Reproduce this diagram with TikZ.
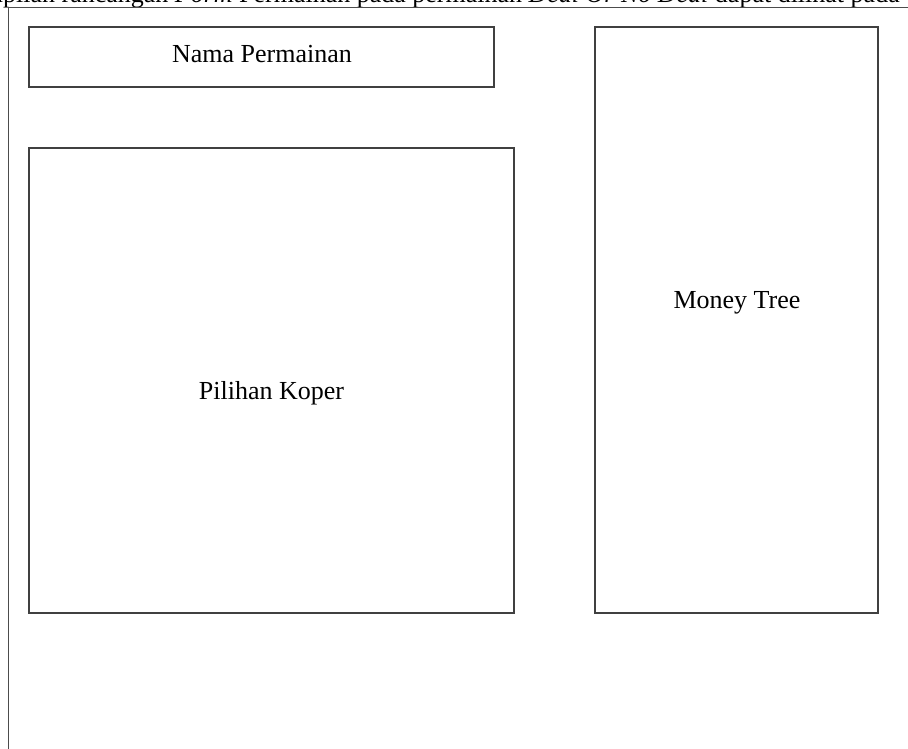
\documentclass[tikz,border=0pt]{standalone}
\usepackage{fontspec}
\setmainfont{Liberation Serif}
\begin{document}
\begin{tikzpicture}[x=1pt,y=-1pt,
  panel/.style={draw=black!75, line width=2pt, anchor=north west, inner sep=0pt, outer sep=0pt},
  label/.style={anchor=base, inner sep=0pt, font=\fontsize{26}{30}\selectfont},
  frame/.style={draw=black!70, line width=1.2pt}]
\useasboundingbox (0,0) rectangle (908,749);
\begin{scope}
\clip (0,0) rectangle (908,749);
\node[anchor=base east, inner sep=0pt, font=\fontsize{26}{30}\selectfont] (caption) at (900,3)
  {Tampilan rancangan \textit{Form} Permainan pada permainan \textit{Deal Or No Deal} dapat dilihat pada};
\coordinate (fl) at (8.3,760);
\coordinate (ftl) at (8.3,7.3);
\coordinate (ftr) at (920,7.3);
\draw[frame] (fl) -- (ftl) -- (ftr);
\end{scope}
\node[panel, minimum width=464.5pt, minimum height=60pt] (nama) at (29,27.5) {};
\node[panel, minimum width=484.5pt, minimum height=464pt] (koper) at (29,148.5) {};
\node[panel, minimum width=282.5pt, minimum height=585pt] (money) at (595,27.5) {};
\node[label] (namaL) at (262,63) {Nama Permainan};
\node[label] (koperL) at (271.5,399) {Pilihan Koper};
\node[label] (moneyL) at (737,308.3) {Money Tree};
\end{tikzpicture}
\end{document}
